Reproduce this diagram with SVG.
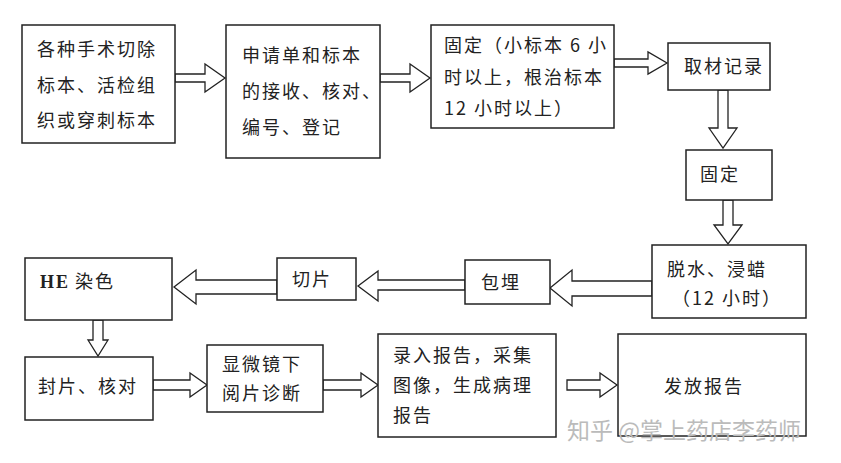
<svg xmlns="http://www.w3.org/2000/svg" width="841" height="463" viewBox="0 0 841 463">
<style>
rect{fill:#fff;stroke:#222;stroke-width:1.5}
path{fill:#fff;stroke:#222;stroke-width:1.3}
text{font-family:"Noto Sans CJK SC","Liberation Serif",serif;font-size:18px;fill:#222;letter-spacing:2px}
.wm{fill:#bbb;font-size:23px;font-family:"Noto Sans CJK SC",sans-serif;letter-spacing:0}
</style>
<rect x="0" y="0" width="841" height="463" style="stroke:none"/>
<g id="connectors">
<path d="M175,74 H205 V64 L225,78 L205,92 V82 H175 Z"/>
<path d="M380,74 H410 V64 L430,78 L410,92 V82 H380 Z"/>
<path d="M614,59 H648 V52 L667,63 L648,74 V67 H614 Z"/>
<path d="M723,90 V128 H714 L728,148 L742,128 H733 V90 Z" transform="translate(-5,0)"/>
<path d="M723,200 V225 H714 L728,244 L742,225 H733 V200 Z"/>
<path d="M652,281 H572 V270 L550,288 L572,306 V296 H652 Z"/>
<path d="M465,280 H378 V271 L358,286 L378,301 V290 H465 Z"/>
<path d="M277,280 H196 V270 L174,287 L196,304 V294 H277 Z"/>
<path d="M93,320 V340 H88 L98,356 L108,340 H103 V320 Z"/>
<path d="M153,380 H190 V373 L207,385 L190,397 V390 H153 Z"/>
<path d="M323,380 H361 V373 L378,385 L361,397 V390 H323 Z"/>
<path d="M567,380 H600 V373 L617,385 L600,397 V390 H567 Z"/>
</g>
<g id="n1"><rect x="22" y="25" width="153" height="118"/><text x="37" y="56">各种手术切除</text><text x="37" y="92">标本、活检组</text><text x="37" y="127">织或穿刺标本</text></g>
<g id="n2"><rect x="226" y="25" width="154" height="133"/><text x="242" y="62">申请单和标本</text><text x="242" y="98">的接收、核对、</text><text x="242" y="134">编号、登记</text></g>
<g id="n3"><rect x="431" y="25" width="183" height="103"/><text x="444" y="52">固定（小标本 6 小</text><text x="444" y="84">时以上，根治标本</text><text x="444" y="115">12 小时以上）</text></g>
<g id="n4"><rect x="668" y="43" width="102" height="47"/><text x="684" y="73">取材记录</text></g>
<g id="n5"><rect x="686" y="150" width="86" height="50"/><text x="700" y="181">固定</text></g>
<g id="n6"><rect x="652" y="245" width="154" height="73"/><text x="667" y="276">脱水、浸蜡</text><text x="672" y="305">（12 小时）</text></g>
<g id="n7"><rect x="465" y="260" width="85" height="44"/><text x="481" y="289">包埋</text></g>
<g id="n8"><rect x="277" y="258" width="79" height="42"/><text x="292" y="286">切片</text></g>
<g id="n9"><rect x="25" y="258" width="147" height="62"/><text x="40" y="288" style="font-weight:bold;font-family:'Liberation Serif',serif">HE</text><text x="75" y="288">染色</text></g>
<g id="n10"><rect x="25" y="357" width="128" height="63"/><text x="38" y="393">封片、核对</text></g>
<g id="n11"><rect x="207" y="345" width="116" height="67"/><text x="222" y="371">显微镜下</text><text x="222" y="400">阅片诊断</text></g>
<g id="n12"><rect x="378" y="334" width="178" height="103"/><text x="393" y="362">录入报告，采集</text><text x="393" y="392">图像，生成病理</text><text x="393" y="422">报告</text></g>
<g id="n13"><rect x="618" y="334" width="188" height="102"/><text x="664" y="393">发放报告</text></g>
<text class="wm" x="567" y="439">知乎 @掌上药店李药师</text>
</svg>
